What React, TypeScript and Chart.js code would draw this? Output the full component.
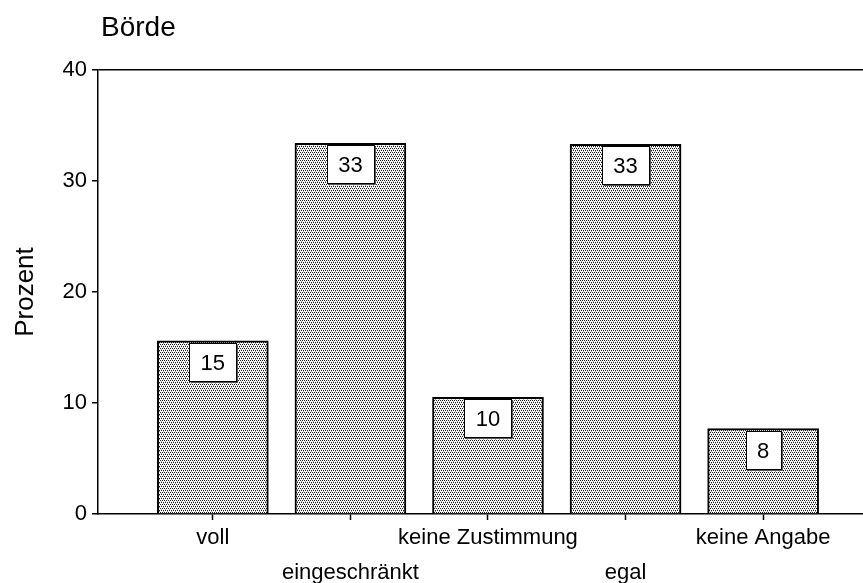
import React, { useEffect, useRef } from "react";
import { Chart, registerables } from "chart.js";

Chart.register(...registerables);

const chartTitle = "Börde";
const yAxisTitle = "Prozent";
const categories: (string | string[])[] = [
  ["voll"],
  ["", "eingeschränkt"],
  ["keine Zustimmung"],
  ["", "egal"],
  ["keine Angabe"],
];
const values = [15.6, 33.4, 10.5, 33.3, 7.7];
const valueLabels = ["15", "33", "10", "33", "8"];
const yTicks = [0, 10, 20, 30, 40];

const FONT = "'Liberation Sans', Arial, Helvetica, sans-serif";

function makePattern(): CanvasPattern | string {
  const c = document.createElement("canvas");
  c.width = 4;
  c.height = 4;
  const g = c.getContext("2d");
  if (!g) return "#b0b0b0";
  g.fillStyle = "#ffffff";
  g.fillRect(0, 0, 4, 4);
  g.fillStyle = "#1a1a1a";
  [[0, 0], [2, 0], [1, 2], [3, 2]].forEach(([x, y]) => g.fillRect(x, y, 1, 1));
  g.fillStyle = "#a8a8a8";
  [[1, 1], [3, 3]].forEach(([x, y]) => g.fillRect(x, y, 1, 1));
  const p = g.createPattern(c, "repeat");
  return p || "#b0b0b0";
}

const decorPlugin = {
  id: "decor",
  afterDatasetsDraw(chart: any) {
    const ctx = chart.ctx as CanvasRenderingContext2D;
    const meta = chart.getDatasetMeta(0);
    ctx.save();
    ctx.font = `22px ${FONT}`;
    ctx.textAlign = "center";
    ctx.textBaseline = "middle";
    meta.data.forEach((el: any, i: number) => {
      const label = valueLabels[i];
      const tw = ctx.measureText(label).width;
      const w = Math.round(tw + 23);
      const h = 38;
      const x0 = Math.round(el.x - w / 2) + 0.5;
      const y0 = Math.round(el.y + 2) + 0.5;
      ctx.fillStyle = "#ffffff";
      ctx.fillRect(x0, y0, w, h);
      ctx.strokeStyle = "#000";
      ctx.lineWidth = 1;
      ctx.strokeRect(x0, y0, w, h);
      ctx.strokeStyle = "#555";
      ctx.beginPath();
      ctx.moveTo(x0 + w + 1, y0 + 1);
      ctx.lineTo(x0 + w + 1, y0 + h + 1);
      ctx.lineTo(x0 + 1, y0 + h + 1);
      ctx.stroke();
      ctx.fillStyle = "#000";
      ctx.fillText(label, el.x, y0 + h / 2 + 1);
    });
    ctx.restore();
  },
  afterDraw(chart: any) {
    const ctx = chart.ctx as CanvasRenderingContext2D;
    const area = chart.chartArea;
    ctx.save();
    ctx.fillStyle = "#000";
    ctx.font = `28px ${FONT}`;
    ctx.textAlign = "left";
    ctx.textBaseline = "alphabetic";
    ctx.fillText(chartTitle, 101, 36);
    ctx.translate(33, (area.top + area.bottom) / 2);
    ctx.rotate(-Math.PI / 2);
    ctx.font = `26px ${FONT}`;
    ctx.textAlign = "center";
    ctx.textBaseline = "alphabetic";
    ctx.fillText(yAxisTitle, 0, 0);
    ctx.restore();
  },
};

export default function App() {
  const ref = useRef<HTMLCanvasElement | null>(null);

  useEffect(() => {
    document.body.style.margin = "0";
    const canvas = ref.current;
    if (!canvas) return;
    const pattern = makePattern();
    const chart = new Chart(canvas, {
      type: "bar",
      data: {
        datasets: [
          {
            data: values.map((v, i) => ({ x: i + 1, y: v })),
            backgroundColor: pattern as any,
            borderColor: "#000",
            borderWidth: { left: 2, right: 2, top: 2, bottom: 0 },
            borderSkipped: "bottom",
            barThickness: 111,
          },
        ],
      },
      options: {
        animation: false,
        responsive: false,
        maintainAspectRatio: false,
        layout: { padding: { top: 70, left: 0, right: 0, bottom: 0 } },
        plugins: {
          legend: { display: false },
          tooltip: { enabled: false },
          title: { display: false },
        },
        scales: {
          x: {
            type: "linear",
            offset: false,
            min: 0.1652,
            max: 5.726,
            afterBuildTicks: (axis: any) => {
              axis.ticks = categories.map((_, i) => ({ value: i + 1 }));
            },
            afterFit: (axis: any) => {
              axis.height = 69;
            },
            ticks: {
              autoSkip: false,
              maxRotation: 0,
              minRotation: 0,
              padding: 0,
              color: "#000",
              font: { family: FONT, size: 22, lineHeight: 35 / 22 },
              callback: (v: any) => categories[Math.round(Number(v)) - 1] ?? "",
            },
            grid: {
              offset: false,
              drawOnChartArea: false,
              drawTicks: true,
              tickLength: 6,
              tickColor: "#000",
              tickWidth: 1.5,
            },
            border: { display: true, color: "#000", width: 1.5 },
          },
          y: {
            min: 0,
            max: 40,
            afterBuildTicks: (axis: any) => {
              axis.ticks = yTicks.map((v) => ({ value: v }));
            },
            afterFit: (axis: any) => {
              axis.width = 98;
            },
            ticks: {
              padding: 5,
              color: "#000",
              font: { family: FONT, size: 22 },
            },
            grid: {
              drawOnChartArea: true,
              color: (c: any) => (c.tick && c.tick.value === 40 ? "#000" : "rgba(0,0,0,0)"),
              lineWidth: 1.5,
              drawTicks: true,
              tickLength: 6,
              tickColor: "#000",
              tickWidth: 1.5,
            },
            border: { display: true, color: "#000", width: 1.5 },
          },
        },
      },
      plugins: [decorPlugin],
    });
    return () => chart.destroy();
  }, []);

  return (
    <div style={{ position: "absolute", left: 0, top: 0, width: 863, height: 583 }}>
      <canvas ref={ref} width={863} height={583} style={{ display: "block" }} />
    </div>
  );
}
